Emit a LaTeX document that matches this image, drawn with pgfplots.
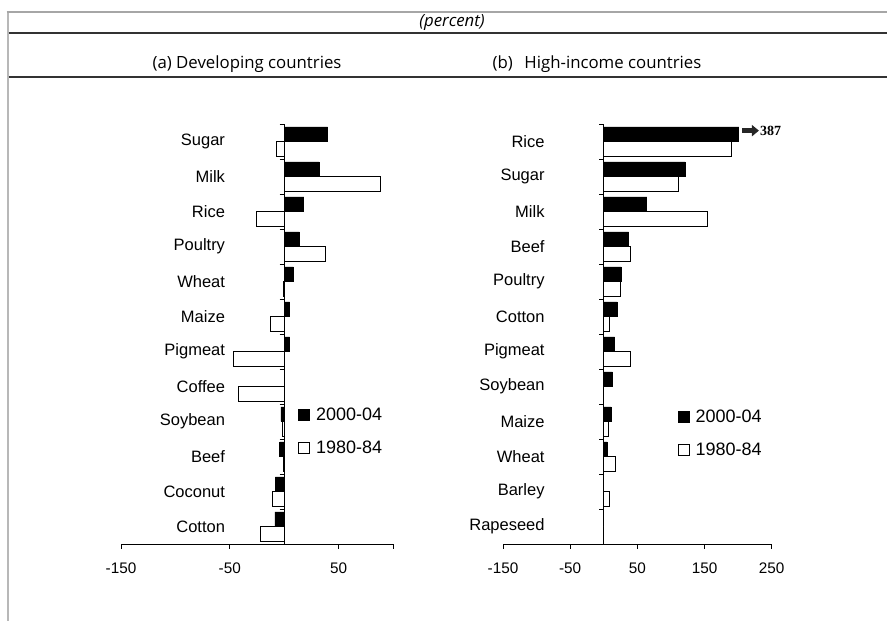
\documentclass[border=0pt]{standalone}
\usepackage{fontspec}
\setmainfont{Liberation Sans}
\newfontfamily\titlefont{Open Sans}
\newfontfamily\serifb{Liberation Serif}
\usepackage{pgfplots}
\usepackage{pgfplotstable}
\pgfplotsset{compat=1.18}
\usetikzlibrary{arrows.meta}

% category position (11 = top row), 2000-04, 1980-84
\pgfplotstableread{
y   new    old
11  40     -7
10  32     88.7
9   18     -26
8   14     38
7   8.5    -1
6   5      -13
5   5      -47
4   0      -42.5
3   -3     -2
2   -4     -1
1   -8     -10.7
0   -8.5   -22
}\tabA
\pgfplotstableread{
y   new    old
11  201    189.5
10  121    111
9   64     155
8   37     39
7   26     25
6   20     8
5   16     39
4   13     0
3   11     7
2   5      18
1   0      8.5
0   0      0
}\tabB

\pgfplotsset{
  panel/.style={
    scale only axis, height=420pt,
    ymin=-0.5, ymax=11.5,
    axis x line=bottom, axis y line=center,
    axis line style={-, line width=0.8pt, black},
    tick align=outside,
    xbar, bar width=14.5pt,
    ytick={0,...,11},
    minor ytick={-0.5,0.5,...,11.5},
    major y tick style={draw=none},
    minor y tick style={line width=0.8pt, black},
    x tick style={line width=0.8pt, black},
    minor tick length=4.5pt, major tick length=5pt,
    yticklabel style={font=\fontsize{16.5}{19}\selectfont, anchor=east, inner sep=0pt, xshift=-54pt},
    xticklabel style={font=\fontsize{15.3}{18}\selectfont, anchor=north, inner sep=0pt, yshift=-14pt},
    legend cell align=left,
    legend style={draw=none, fill=none, font=\fontsize{18}{21}\selectfont, row sep=15pt, column sep=4pt, inner sep=0pt},
    clip=false,
  },
  newbar/.style={draw=black, fill=black, line width=0.8pt, bar shift=7.25pt,
    legend image code/.code={\draw[black, fill=black, line width=0.8pt] (0pt,-5.5pt) rectangle (11pt,5.5pt);}},
  oldbar/.style={draw=black, fill=white, line width=0.8pt, bar shift=-7.25pt,
    legend image code/.code={\draw[black, fill=white, line width=0.8pt] (0pt,-5.5pt) rectangle (11pt,5.5pt);}},
}

\begin{document}
\begin{tikzpicture}
\useasboundingbox (0pt,0pt) rectangle (887pt,621pt);
% frame and header
\draw[line width=2pt, color=black!28] (7.5pt,0pt) -- (7.5pt,609pt);
\draw[line width=1.5pt, color=black!35] (6.5pt,609pt) -- (887pt,609pt);
\node[font=\titlefont\itshape\fontsize{16.8}{20}\selectfont] at (452pt,598.5pt) {(percent)};
\draw[line width=1.3pt, color=black!80] (8.5pt,588pt) -- (887pt,588pt);
\node[font=\titlefont\fontsize{16.8}{19}\selectfont] at (247pt,557pt) {(a) Developing countries};
\node[font=\titlefont\fontsize{16.8}{19}\selectfont] at (597pt,557pt) {(b)\ \ \,High-income countries};
\draw[line width=1.3pt, color=black!80] (8.5pt,544pt) -- (887pt,544pt);

% panel (a)
\begin{axis}[panel, at={(121pt,77pt)}, anchor=south west, width=272pt,
  xmin=-150, xmax=100,
  xtick={-150,-50,50,100}, xticklabels={-150,-50,50,},
  yticklabels={Cotton,Coconut,Beef,Soybean,Coffee,Pigmeat,Maize,Wheat,Poultry,Rice,Milk,Sugar},
  legend style={at={(axis cs:12.7,3.45)}, anchor=north west},
]
\addplot[newbar] table[x=new, y=y] {\tabA};
\addplot[oldbar] table[x=old, y=y] {\tabA};
\legend{2000-04,1980-84}
\end{axis}

% panel (b)
\begin{axis}[panel, at={(503pt,77pt)}, anchor=south west, width=268.7pt,
  xmin=-150, xmax=250,
  xtick={-150,-50,50,150,250},
  xticklabels={-150,-50,50,150,250},
  yticklabels={Rapeseed,Barley,Wheat,Maize,Soybean,Pigmeat,Cotton,Poultry,Beef,Milk,Sugar,Rice},
  legend style={at={(axis cs:110,3.4)}, anchor=north west},
]
\addplot[newbar] table[x=new, y=y] {\tabB};
\addplot[oldbar] table[x=old, y=y] {\tabB};
\legend{2000-04,1980-84}
\draw[-{Triangle[length=7pt,width=11pt]}, line width=4.5pt, color=black!85]
  (axis cs:206.5,11.31) -- (axis cs:231,11.31);
\node[anchor=west, inner sep=1pt, font=\serifb\bfseries\fontsize{14}{16}\selectfont]
  at (axis cs:231,11.31) {387};
\end{axis}
\end{tikzpicture}
\end{document}
